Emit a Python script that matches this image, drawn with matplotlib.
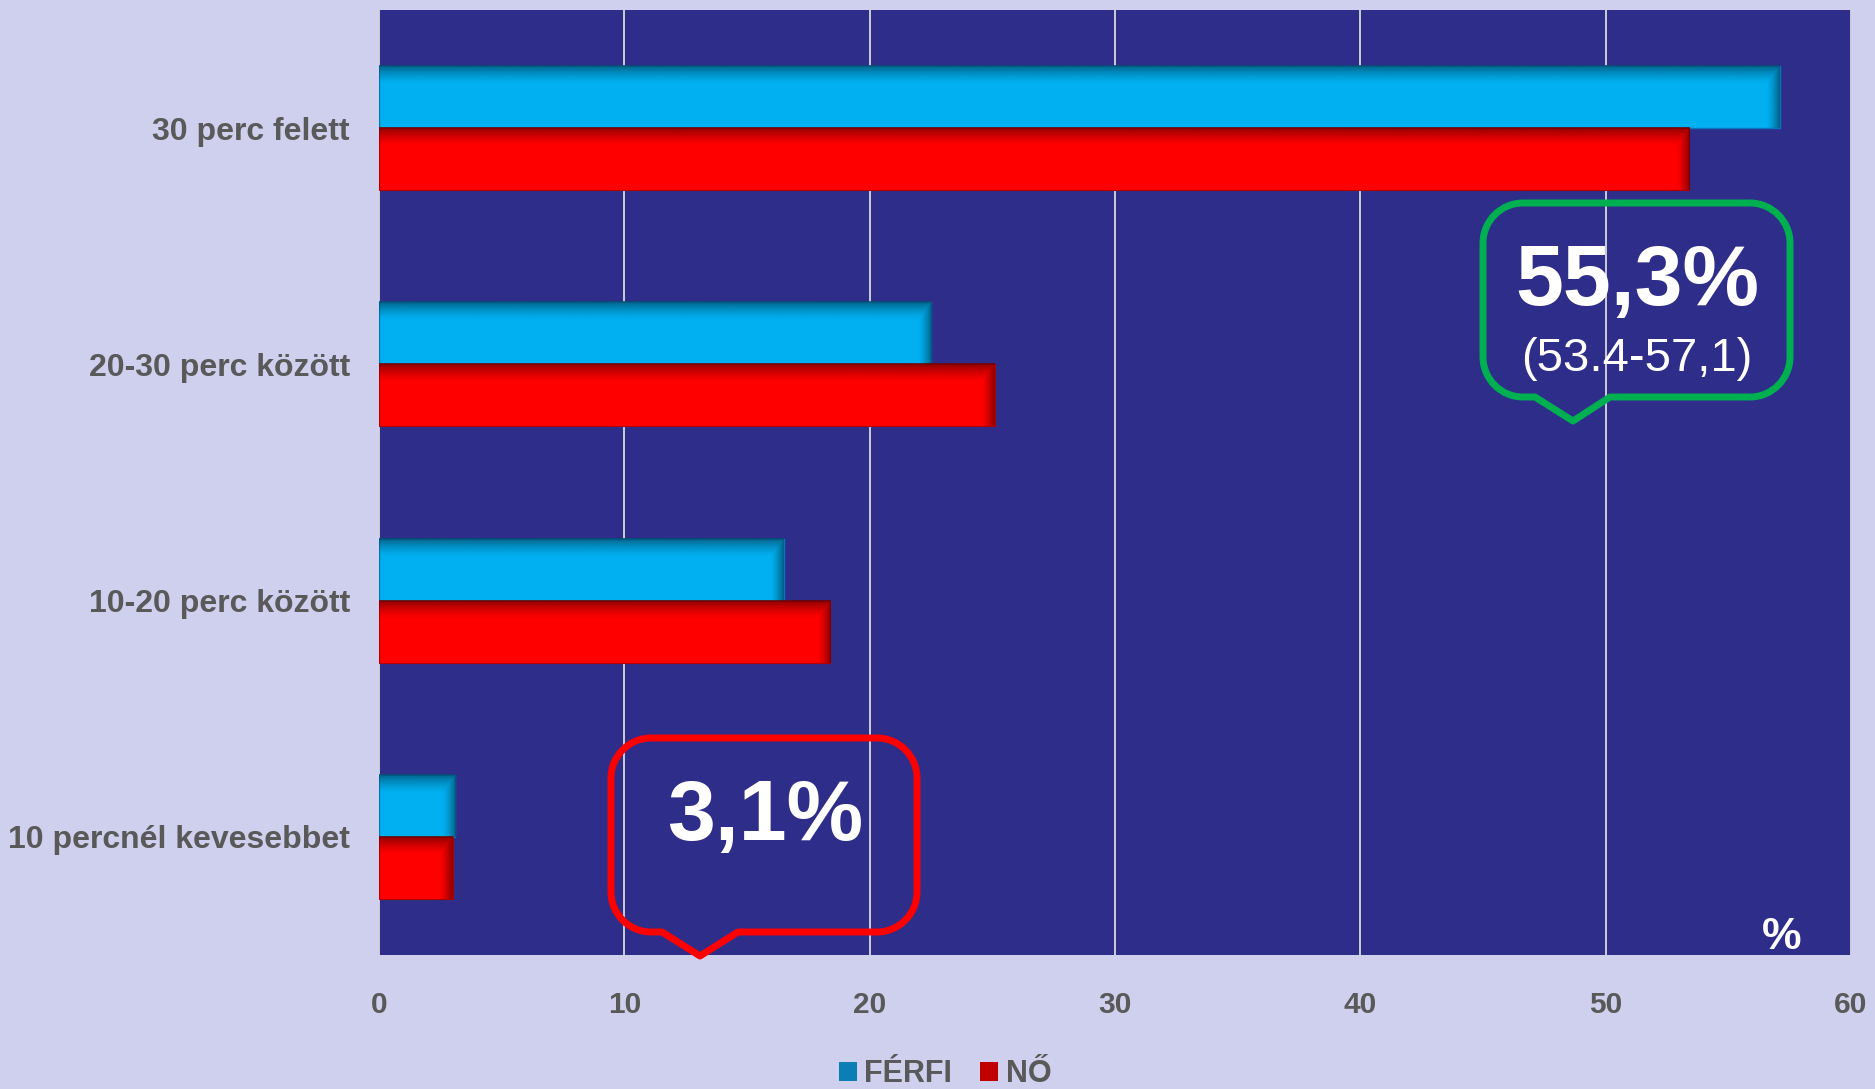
import numpy as np
import matplotlib
matplotlib.use("Agg")
import matplotlib.pyplot as plt
from matplotlib.path import Path
from matplotlib.patches import PathPatch, Patch

plt.rcParams['font.family'] = ['Liberation Sans', 'DejaVu Sans']

categories = ["10 percnél kevesebbet", "10-20 perc között",
              "20-30 perc között", "30 perc felett"]
ferfi = [3.1, 16.5, 22.5, 57.1]
no = [3.0, 18.4, 25.1, 53.4]
series_labels = ["FÉRFI", "NŐ"]
xticks = [0, 10, 20, 30, 40, 50, 60]

W, H = 1875, 1089
BG = "#CFCFEE"
PLOT_BG = "#2E2E8A"
BLUE = "#00B0F0"
RED = "#FF0000"
GREY = "#595959"

fig = plt.figure(figsize=(W / 100, H / 100), dpi=100, facecolor=BG)
ax = fig.add_axes([379 / W, 1 - 955 / H, 1472 / W, 945 / H])
ax.set_facecolor(PLOT_BG)

y = np.arange(len(categories))
h = 0.2625
b1 = ax.barh(y + h / 2, ferfi, height=h, color=BLUE, edgecolor="#0A74BE",
             linewidth=1, zorder=2, label=series_labels[0])
b2 = ax.barh(y - h / 2, no, height=h, color=RED, edgecolor="#B00000",
             linewidth=0.8, zorder=2, label=series_labels[1])

ax.set_xlim(0, 60)
ax.set_ylim(-0.5, len(categories) - 0.5)

# inner shading along the top and right edges of each bar
bbox = ax.get_window_extent()
px_x = bbox.width / 60
px_y = bbox.height / len(categories)


def shade(bars, dark):
    rgb = np.array(matplotlib.colors.to_rgb(dark))
    for r in bars:
        x0, y0 = r.get_x(), r.get_y()
        w, hh = r.get_width(), r.get_height()
        nx = max(int(w * px_x), 2)
        ny = max(int(hh * px_y), 2)
        dt = np.arange(ny)[:, None] * np.ones((1, nx))
        dr = (nx - 1 - np.arange(nx))[None, :] * np.ones((ny, 1))
        at = np.clip(1 - dt / 18, 0, 1) ** 1.4
        ar = np.clip(1 - dr / 13, 0, 1) ** 1.4
        img = np.zeros((ny, nx, 4))
        img[..., :3] = rgb
        img[..., 3] = np.maximum(at, ar) * 0.8
        ax.imshow(img, extent=(x0, x0 + w, y0, y0 + hh), origin="upper",
                  aspect="auto", interpolation="bilinear", zorder=3)


shade(b1, "#005070")
shade(b2, "#700000")
ax.set_xlim(0, 60)
ax.set_ylim(-0.5, len(categories) - 0.5)

ax.set_xticks(xticks)
ax.set_xticklabels([str(t) for t in xticks])
ax.set_yticks(y)
ax.set_yticklabels(categories)
ax.tick_params(axis="x", length=0, pad=26, labelsize=21.5, labelcolor=GREY)
ax.tick_params(axis="y", length=0, pad=21, labelsize=23, labelcolor=GREY)
for lab in ax.get_xticklabels() + ax.get_yticklabels():
    lab.set_fontweight("bold")

ax.grid(axis="x", color="#D9D9D9", linewidth=1.3)
ax.grid(axis="y", visible=False)
ax.set_axisbelow(True)
for s in ax.spines.values():
    s.set_visible(False)

ax.text(0.953, 0.006, "%", transform=ax.transAxes, ha="center",
        va="baseline", color="white", fontsize=32, fontweight="bold")


def callout(x0, y0, x1, y1, tl, tr, tx, ty, r, color):
    # rounded speech bubble, pixel coords measured from the top left
    k = 0.55
    pts = [(tr, y1), (x1 - r, y1),
           (x1 - r * (1 - k), y1), (x1, y1 - r * (1 - k)), (x1, y1 - r),
           (x1, y0 + r),
           (x1, y0 + r * (1 - k)), (x1 - r * (1 - k), y0), (x1 - r, y0),
           (x0 + r, y0),
           (x0 + r * (1 - k), y0), (x0, y0 + r * (1 - k)), (x0, y0 + r),
           (x0, y1 - r),
           (x0, y1 - r * (1 - k)), (x0 + r * (1 - k), y1), (x0 + r, y1),
           (tl, y1), (tx, ty), (tr, y1)]
    codes = [Path.MOVETO, Path.LINETO,
             Path.CURVE4, Path.CURVE4, Path.CURVE4,
             Path.LINETO,
             Path.CURVE4, Path.CURVE4, Path.CURVE4,
             Path.LINETO,
             Path.CURVE4, Path.CURVE4, Path.CURVE4,
             Path.LINETO,
             Path.CURVE4, Path.CURVE4, Path.CURVE4,
             Path.LINETO, Path.LINETO, Path.CLOSEPOLY]
    verts = [(px / W, 1 - py / H) for px, py in pts]
    fig.add_artist(PathPatch(Path(verts, codes), transform=fig.transFigure,
                             facecolor="none", edgecolor=color, linewidth=5,
                             joinstyle="round", zorder=5))


callout(1483, 203, 1790, 397, 1535, 1610, 1573, 421, 40, "#00B050")
callout(611, 738, 917, 932, 662, 738, 700, 956, 40, "#FF0000")

fig.text(1637 / W, 1 - 283 / H, "55,3%", ha="center", va="center",
         color="white", fontsize=62, fontweight="bold")
fig.text(1637 / W, 1 - 359 / H, "(53.4-57,1)", ha="center", va="center",
         color="white", fontsize=34)
fig.text(765 / W, 1 - 818 / H, "3,1%", ha="center", va="center",
         color="white", fontsize=62, fontweight="bold")

handles = [Patch(facecolor="#0A7FB5"), Patch(facecolor="#C00000")]
fig.legend(handles, series_labels, loc="center", bbox_to_anchor=(0.504, 1 - 1074 / H),
           ncol=2, frameon=False, handlelength=0.6, handleheight=0.6,
           handletextpad=0.25, columnspacing=0.9, labelcolor=GREY,
           prop={"size": 22, "weight": "bold"})

fig.savefig("out.png", dpi=100, facecolor=BG)
